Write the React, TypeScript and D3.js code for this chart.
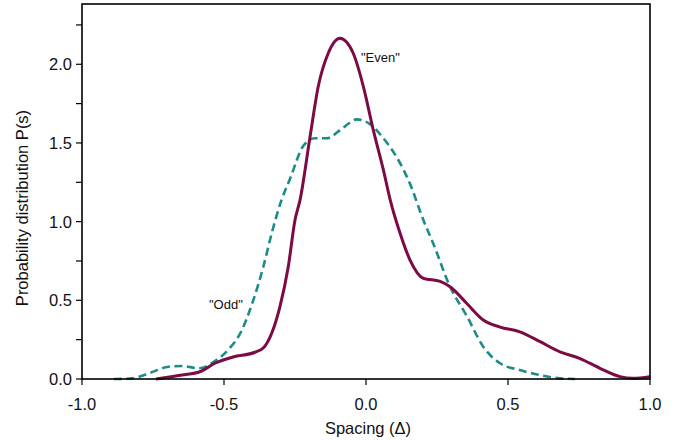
import React from "react";
import * as d3 from "d3";

const evenX = [-0.739, -0.648, -0.585, -0.532, -0.468, -0.391, -0.36, -0.33, -0.303, -0.274, -0.25, -0.232, -0.197, -0.168, -0.133, -0.092, -0.045, -0.0095, 0.026, 0.061, 0.085, 0.12, 0.155, 0.202, 0.261, 0.296, 0.355, 0.413, 0.472, 0.542, 0.613, 0.683, 0.754, 0.824, 0.894, 0.94, 1.0];
const evenY = [0, 0.025, 0.046, 0.1, 0.14, 0.17, 0.2, 0.3, 0.46, 0.71, 1.01, 1.14, 1.54, 1.86, 2.07, 2.165, 2.07, 1.86, 1.58, 1.33, 1.14, 0.926, 0.756, 0.64, 0.62, 0.586, 0.48, 0.375, 0.33, 0.3, 0.237, 0.173, 0.13, 0.068, 0.015, 0.004, 0.015];

const oddX = [-0.888, -0.824, -0.765, -0.695, -0.648, -0.589, -0.531, -0.483, -0.44, -0.397, -0.362, -0.332, -0.297, -0.268, -0.221, -0.18, -0.138, -0.092, -0.056, -0.033, 0.014, 0.061, 0.108, 0.155, 0.202, 0.237, 0.296, 0.355, 0.413, 0.472, 0.542, 0.613, 0.683, 0.736];
const oddY = [0, 0.004, 0.036, 0.078, 0.083, 0.068, 0.115, 0.19, 0.3, 0.5, 0.71, 0.926, 1.14, 1.27, 1.48, 1.53, 1.53, 1.58, 1.63, 1.65, 1.62, 1.53, 1.41, 1.24, 1.01, 0.86, 0.586, 0.4, 0.205, 0.1, 0.057, 0.025, 0.004, 0];

const xTicks = [-1.0, -0.5, 0.0, 0.5, 1.0];
const yTicks = [0.0, 0.5, 1.0, 1.5, 2.0];
const yMinor = [0.25, 0.75, 1.25, 1.75, 2.25];

const W = 677;
const H = 440;
const FONT = "'Liberation Sans', Arial, Helvetica, sans-serif";

export default function App() {
  const x = d3.scaleLinear().domain([-1, 1]).range([82, 650]);
  const y = d3.scaleLinear().domain([0, 2.383]).range([379, 4]);

  const line = d3
    .line<[number, number]>()
    .x((d) => x(d[0]))
    .y((d) => y(d[1]))
    .curve(d3.curveMonotoneX);

  const evenPts = evenX.map((v, i) => [v, evenY[i]] as [number, number]);
  const oddPts = oddX.map((v, i) => [v, oddY[i]] as [number, number]);

  const [x0, x1] = x.range();
  const [y0, y1] = y.range();

  return (
    <>
      <style>{`body{margin:0}`}</style>
      <svg width={W} height={H} style={{ display: "block", fontFamily: FONT }}>
        <rect width={W} height={H} fill="white" />
        <path d={line(oddPts) || ""} fill="none" stroke="#1b8c8a" strokeWidth={2.6} strokeDasharray="8,4.5" />
        <path d={line(evenPts) || ""} fill="none" stroke="#7d0a45" strokeWidth={3} />
        <rect x={x0} y={y1} width={x1 - x0} height={y0 - y1} fill="none" stroke="#000" strokeWidth={1.6} />
        {yTicks.map((t) => (
          <g key={"y" + t}>
            <line x1={x0 - 6} x2={x0} y1={y(t)} y2={y(t)} stroke="#000" strokeWidth={1.2} />
            <text x={x0 - 10} y={y(t)} dy="0.36em" textAnchor="end" fontSize={16.5} fill="#111">
              {t.toFixed(1)}
            </text>
          </g>
        ))}
        {yMinor.map((t) => (
          <line key={"ym" + t} x1={x0 - 6} x2={x0} y1={y(t)} y2={y(t)} stroke="#000" strokeWidth={1.2} />
        ))}
        {xTicks.map((t) => (
          <g key={"x" + t}>
            <line x1={x(t)} x2={x(t)} y1={y0} y2={y0 + 6} stroke="#000" strokeWidth={1.2} />
            <text x={x(t)} y={y0 + 31} textAnchor="middle" fontSize={16.5} fill="#111">
              {t.toFixed(1)}
            </text>
          </g>
        ))}
        <text x={368} y={434} textAnchor="middle" fontSize={16.5} fill="#111">
          Spacing (Δ)
        </text>
        <text transform="translate(28,208) rotate(-90)" textAnchor="middle" fontSize={16.5} fill="#111">
          Probability distribution P(s)
        </text>
        <text x={361} y={62} fontSize={13} fill="#111">"Even"</text>
        <text x={209} y={309} fontSize={13} fill="#111">"Odd"</text>
      </svg>
    </>
  );
}
